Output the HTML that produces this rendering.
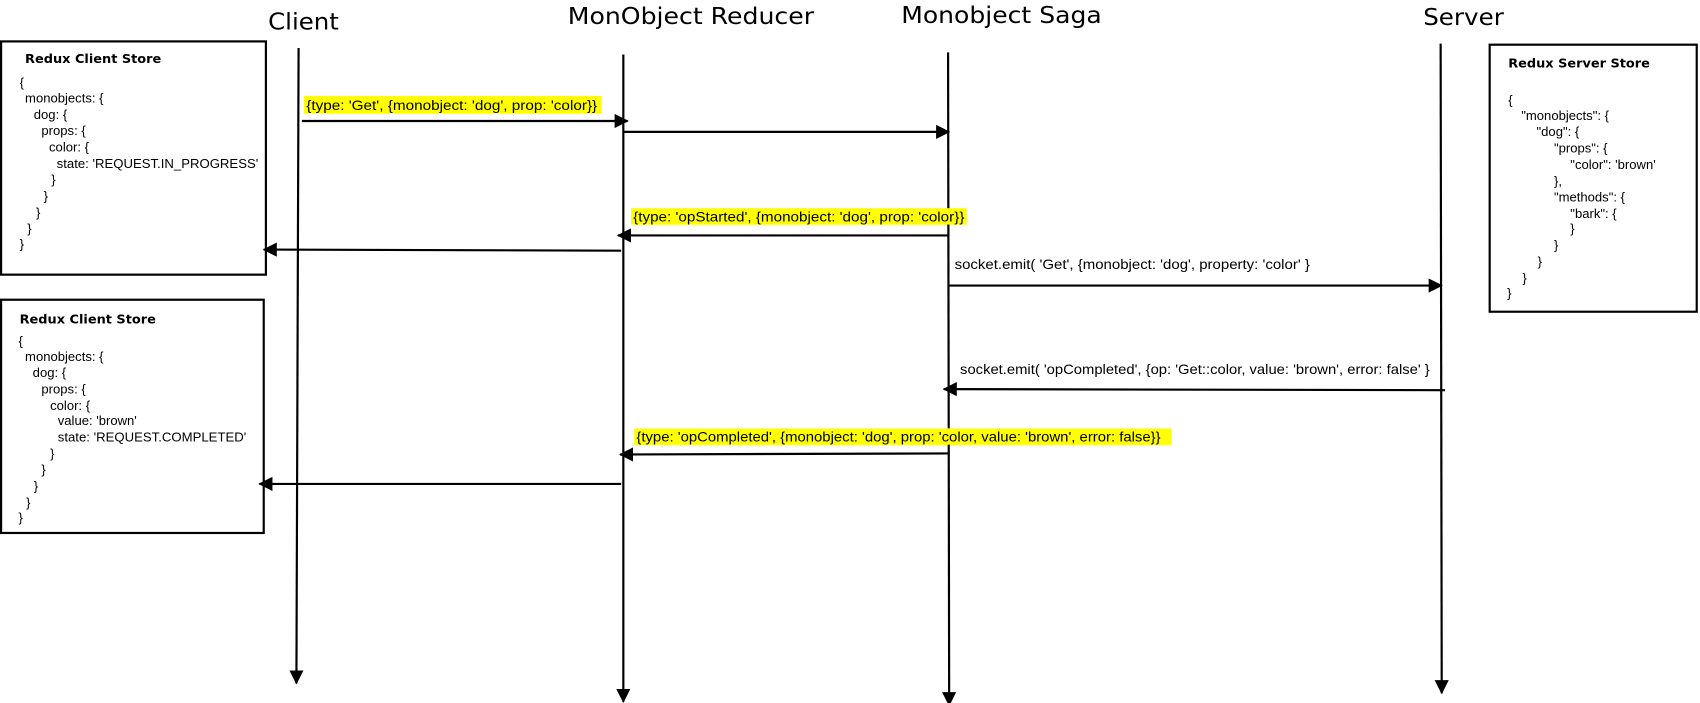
<!DOCTYPE html>
<html><head><meta charset="utf-8"><style>
html,body{margin:0;padding:0;background:#fff;width:1700px;height:703px;overflow:hidden}
svg{display:block}
text{font-family:"Liberation Sans",sans-serif;fill:#000}
.t{font-family:"DejaVu Sans","Liberation Sans",sans-serif;font-size:21px}
.s{font-size:12px}
.l{font-size:12.5px}
.h{font-family:"DejaVu Sans","Liberation Sans",sans-serif;font-weight:bold;font-size:11.5px}
</style></head><body>
<svg width="1700" height="703" viewBox="0 0 1560 645" preserveAspectRatio="none">
<defs><marker id="a" markerWidth="13" markerHeight="13" refX="12" refY="6.5" orient="auto" markerUnits="userSpaceOnUse"><path d="M0,0 L13,6.5 L0,13 z" fill="#000"/></marker></defs>
<g stroke="#000" stroke-width="2" fill="none">
<rect x="1" y="38" width="243" height="214"/>
<rect x="1" y="275" width="241" height="214"/>
<rect x="1367" y="41" width="190" height="245"/>
<line x1="274" y1="44" x2="272" y2="627" marker-end="url(#a)"/>
<line x1="572" y1="50" x2="572" y2="644" marker-end="url(#a)"/>
<line x1="870" y1="48" x2="871" y2="647" marker-end="url(#a)"/>
<line x1="1322" y1="40" x2="1323" y2="636" marker-end="url(#a)"/>
<line x1="277" y1="111" x2="576" y2="111" marker-end="url(#a)"/>
<line x1="572" y1="121" x2="871" y2="121" marker-end="url(#a)"/>
<line x1="870" y1="216" x2="567" y2="216" marker-end="url(#a)"/>
<line x1="570" y1="230" x2="242" y2="229" marker-end="url(#a)"/>
<line x1="870" y1="262" x2="1323" y2="262" marker-end="url(#a)"/>
<line x1="1326" y1="358" x2="866" y2="357" marker-end="url(#a)"/>
<line x1="870" y1="416" x2="569" y2="417" marker-end="url(#a)"/>
<line x1="570" y1="444" x2="238" y2="444" marker-end="url(#a)"/>
</g>
<text class="t" x="246" y="27" textLength="65" lengthAdjust="spacingAndGlyphs">Client</text>
<text class="t" x="521" y="22" textLength="226" lengthAdjust="spacingAndGlyphs">MonObject Reducer</text>
<text class="t" x="827" y="21" textLength="184" lengthAdjust="spacingAndGlyphs">Monobject Saga</text>
<text class="t" x="1306" y="23" textLength="74" lengthAdjust="spacingAndGlyphs">Server</text>
<rect x="279" y="88" width="273" height="16" fill="#ff0"/>
<rect x="579" y="191" width="308" height="15" fill="#ff0"/>
<rect x="582" y="393" width="493" height="15" fill="#ff0"/>
<text class="l" x="281" y="101" textLength="267" lengthAdjust="spacingAndGlyphs">{type: 'Get', {monobject: 'dog', prop: 'color}}</text>
<text class="l" x="581" y="203" textLength="304" lengthAdjust="spacingAndGlyphs">{type: 'opStarted', {monobject: 'dog', prop: 'color}}</text>
<text class="l" x="584" y="405" textLength="481" lengthAdjust="spacingAndGlyphs">{type: 'opCompleted', {monobject: 'dog', prop: 'color, value: 'brown', error: false}}</text>
<text class="l" x="876" y="247" textLength="326" lengthAdjust="spacingAndGlyphs">socket.emit( 'Get', {monobject: 'dog', property: 'color' }</text>
<text class="l" x="881" y="343" textLength="431" lengthAdjust="spacingAndGlyphs">socket.emit( 'opCompleted', {op: 'Get::color, value: 'brown', error: false' }</text>
<text class="h" x="23" y="58" textLength="125" lengthAdjust="spacingAndGlyphs">Redux Client Store</text>
<text class="s" x="18" y="80">{</text>
<text class="s" x="23" y="94">monobjects: {</text>
<text class="s" x="31" y="109">dog: {</text>
<text class="s" x="38" y="124">props: {</text>
<text class="s" x="45" y="139">color: {</text>
<text class="s" x="52" y="154" textLength="185" lengthAdjust="spacingAndGlyphs">state: 'REQUEST.IN_PROGRESS'</text>
<text class="s" x="47" y="169">}</text>
<text class="s" x="40" y="184">}</text>
<text class="s" x="33" y="199">}</text>
<text class="s" x="25" y="214">}</text>
<text class="s" x="18" y="228">}</text>
<text class="h" x="18" y="297" textLength="125" lengthAdjust="spacingAndGlyphs">Redux Client Store</text>
<text class="s" x="17" y="317">{</text>
<text class="s" x="23" y="331">monobjects: {</text>
<text class="s" x="30" y="346">dog: {</text>
<text class="s" x="38" y="361">props: {</text>
<text class="s" x="46" y="376">color: {</text>
<text class="s" x="53" y="390">value: 'brown'</text>
<text class="s" x="53" y="405" textLength="173" lengthAdjust="spacingAndGlyphs">state: 'REQUEST.COMPLETED'</text>
<text class="s" x="46" y="420">}</text>
<text class="s" x="38" y="435">}</text>
<text class="s" x="31" y="450">}</text>
<text class="s" x="24" y="465">}</text>
<text class="s" x="17" y="479">}</text>
<text class="h" x="1384" y="62" textLength="130" lengthAdjust="spacingAndGlyphs">Redux Server Store</text>
<text class="s" x="1384" y="96">{</text>
<text class="s" x="1396" y="110">"monobjects": {</text>
<text class="s" x="1410" y="125">"dog": {</text>
<text class="s" x="1426" y="140">"props": {</text>
<text class="s" x="1441" y="155">"color": 'brown'</text>
<text class="s" x="1426" y="170">},</text>
<text class="s" x="1426" y="185">"methods": {</text>
<text class="s" x="1441" y="200">"bark": {</text>
<text class="s" x="1441" y="214">}</text>
<text class="s" x="1426" y="229">}</text>
<text class="s" x="1411" y="244">}</text>
<text class="s" x="1397" y="259">}</text>
<text class="s" x="1383" y="273">}</text>
</svg>
</body></html>
